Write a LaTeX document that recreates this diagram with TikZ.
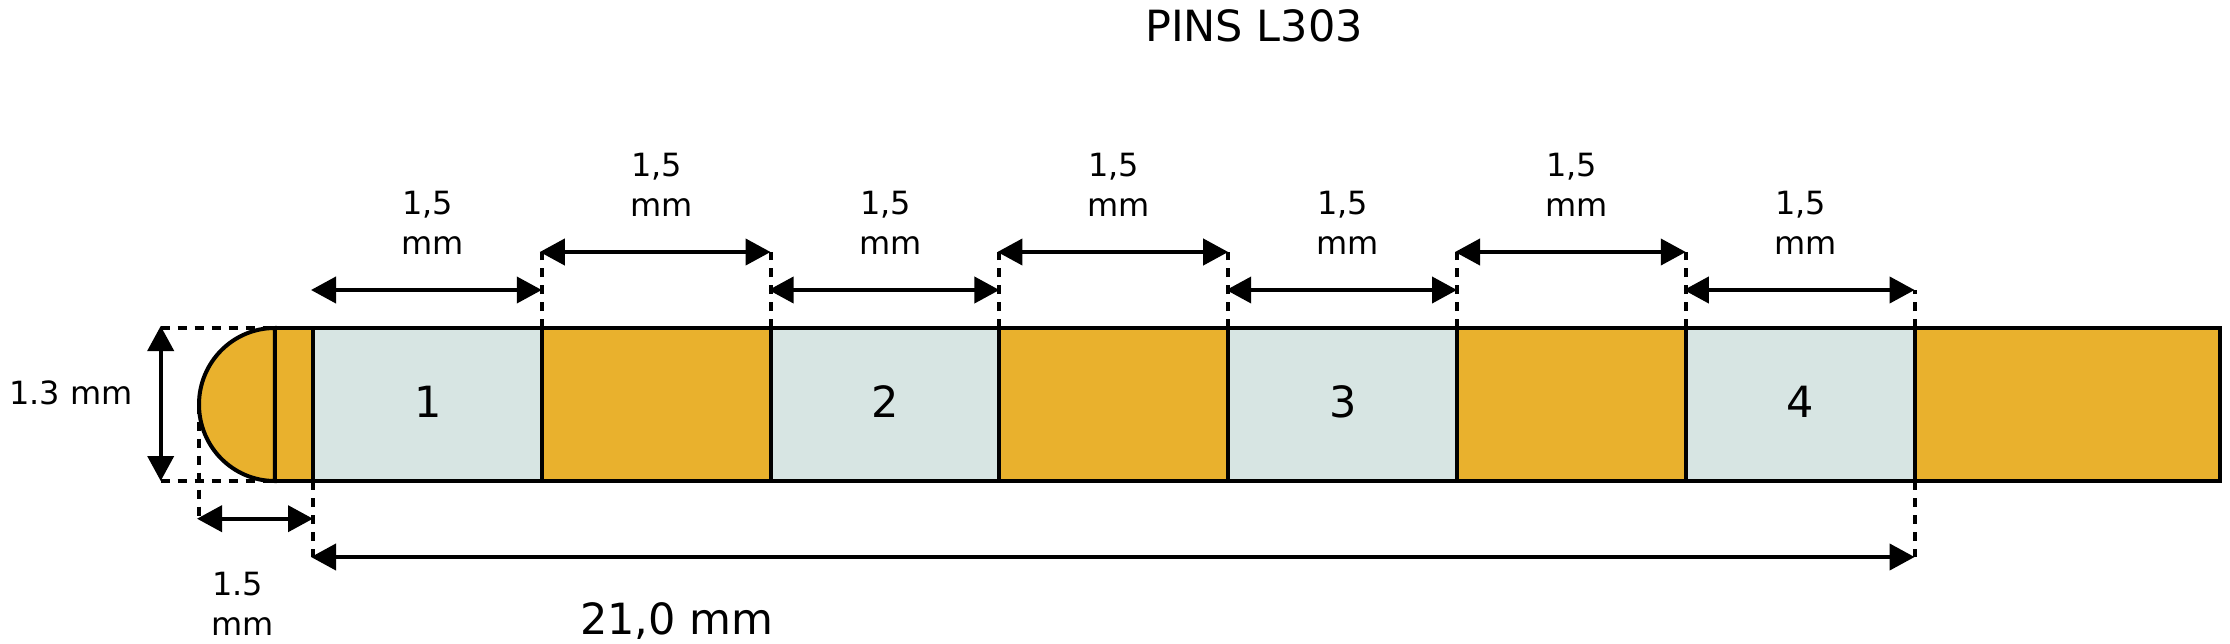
\documentclass[tikz,border=0pt]{standalone}
\usepackage{fontspec}
\setmainfont{DejaVu Sans}
\usetikzlibrary{arrows.meta}
\definecolor{pinorange}{HTML}{E9B12D}
\definecolor{pingrey}{HTML}{D7E5E3}
\tikzset{
  barpart/.style={draw=black,line width=4pt,inner sep=0pt,outer sep=0pt,minimum height=153pt,anchor=west},
  orangepart/.style={barpart,fill=pinorange},
  greypart/.style={barpart,fill=pingrey,minimum width=228.8pt},
  guide/.style={line width=4pt,dash pattern=on 9pt off 8pt},
  dimline/.style={line width=4pt,shorten <=-2pt,{Triangle[length=25pt,width=26pt]}-{Triangle[length=25pt,width=26pt]}},
  small/.style={inner sep=0pt,anchor=base west,font=\fontsize{32}{36}\selectfont},
  large/.style={inner sep=0pt,anchor=base west,font=\fontsize{43}{48}\selectfont},
  digit/.style={inner sep=0pt,anchor=base,font=\fontsize{43}{48}\selectfont}
}
\begin{document}
\begin{tikzpicture}[x=1pt,y=-1pt]
\useasboundingbox (0,0) rectangle (2230,643);
% guides below bar
\coordinate (tipL) at (199,404.5);
\coordinate (dimTL) at (160.7,328);
\coordinate (dimBL) at (160.7,481);
\coordinate (tipTop) at (274.8,328);
\coordinate (tipBot) at (274.8,481);
\coordinate (a15L) at (199,518.7);
\coordinate (a15R) at (313,518.7);
\coordinate (a21L) at (313,557);
\coordinate (a21R) at (1914.6,557);
\draw[guide] (dimTL) -- (tipTop);
\draw[guide] (dimBL) -- (tipBot);
\draw[guide] (tipL) -- (a15L);
% bar
\node[orangepart,minimum width=38.2pt] (strip) at (274.8,404.5) {};
\node[greypart] (s1) at (313,404.5) {};
\node[orangepart,minimum width=228.8pt] (o1) at (541.8,404.5) {};
\node[greypart] (s2) at (770.6,404.5) {};
\node[orangepart,minimum width=228.8pt] (o2) at (999.4,404.5) {};
\node[greypart] (s3) at (1228.2,404.5) {};
\node[orangepart,minimum width=228.8pt] (o3) at (1457,404.5) {};
\node[greypart] (s4) at (1685.8,404.5) {};
\node[orangepart,minimum width=305.4pt] (o4) at (1914.6,404.5) {};
\draw[line width=4pt,fill=pinorange] (tipTop) arc[start angle=-90,end angle=-270,x radius=75.8,y radius=76.5] -- cycle;
% digits
\node[digit] (d1) at (428,417) {1};
\node[digit] (d2) at (885.5,417) {2};
\node[digit] (d3) at (1343.5,417) {3};
\node[digit] (d4) at (1800.5,417) {4};
% upper dimension ends
\coordinate (u0) at (s1.north west |- 0,290);
\coordinate (u1a) at (o1.north west |- 0,290);
\coordinate (u1) at (o1.north west |- 0,252);
\coordinate (u2) at (s2.north west |- 0,252);
\coordinate (u2a) at (s2.north west |- 0,290);
\coordinate (u3a) at (o2.north west |- 0,290);
\coordinate (u3) at (o2.north west |- 0,252);
\coordinate (u4) at (s3.north west |- 0,252);
\coordinate (u4a) at (s3.north west |- 0,290);
\coordinate (u5a) at (o3.north west |- 0,290);
\coordinate (u5) at (o3.north west |- 0,252);
\coordinate (u6) at (s4.north west |- 0,252);
\coordinate (u6a) at (s4.north west |- 0,290);
\coordinate (u7a) at (o4.north west |- 0,290);
% guides
\draw[guide] (o1.north west) -- (u1);
\draw[guide] (s2.north west) -- (u2);
\draw[guide] (o2.north west) -- (u3);
\draw[guide] (s3.north west) -- (u4);
\draw[guide] (o3.north west) -- (u5);
\draw[guide] (s4.north west) -- (u6);
\draw[guide] (o4.north west) -- (u7a);
\draw[guide] (s1.south west) -- (a21L);
\draw[guide] (o4.south west) -- (a21R);
% dimension lines
\draw[dimline] (u0) -- (u1a);
\draw[dimline] (u1) -- (u2);
\draw[dimline] (u2a) -- (u3a);
\draw[dimline] (u3) -- (u4);
\draw[dimline] (u4a) -- (u5a);
\draw[dimline] (u5) -- (u6);
\draw[dimline] (u6a) -- (u7a);
\draw[dimline] (dimTL) -- (dimBL);
\draw[dimline] (a15L) -- (a15R);
\draw[dimline] (a21L) -- (a21R);
% labels
\node[small] (l1a) at (402,214) {1,5};  \node[small] (l1b) at (401.5,254) {mm};
\node[small] (l2a) at (631,176) {1,5};  \node[small] (l2b) at (630.5,216) {mm};
\node[small] (l3a) at (860,214) {1,5};  \node[small] (l3b) at (859.5,254) {mm};
\node[small] (l4a) at (1088,176) {1,5}; \node[small] (l4b) at (1087.5,216) {mm};
\node[small] (l5a) at (1317,214) {1,5}; \node[small] (l5b) at (1316.5,254) {mm};
\node[small] (l6a) at (1546,176) {1,5}; \node[small] (l6b) at (1545.5,216) {mm};
\node[small] (l7a) at (1775,214) {1,5}; \node[small] (l7b) at (1774.5,254) {mm};
\node[small] (lh) at (9,404) {1.3 mm};
\node[small] (lwa) at (212,595) {1.5};
\node[small] (lwb) at (211,635) {mm};
\node[large] (ltotal) at (580,634) {21,0 mm};
\node[large] (title) at (1145,41) {PINS L303};
\end{tikzpicture}
\end{document}
